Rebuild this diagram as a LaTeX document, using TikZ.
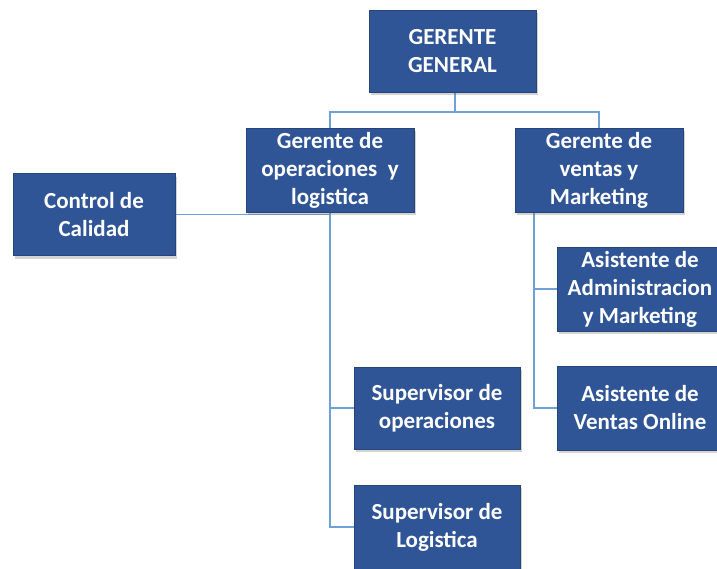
\documentclass[tikz,border=0pt]{standalone}
\usepackage{fontspec}
\setmainfont{Carlito}
\usetikzlibrary{shadows,backgrounds}
\definecolor{boxblue}{HTML}{2F5597}
\definecolor{lineblue}{HTML}{6FA0D6}
\tikzset{
  orgbox/.style={fill=boxblue, draw=boxblue!80!black, line width=0.5pt, text=white, font=\bfseries\fontsize{23}{28}\selectfont, align=center, inner sep=0pt,
    drop shadow={opacity=0.35, shadow xshift=2pt, shadow yshift=-3pt}},
  conn/.style={draw=lineblue, line width=1.8pt}
}
\begin{document}
\begin{tikzpicture}[x=1pt,y=-1pt]
\useasboundingbox (0,0) rectangle (717,568);
\clip (0,0) rectangle (717,568);
\coordinate (jtop) at (455,112);
\node[orgbox, minimum width=167pt, minimum height=82pt] (gg) at (452.5,51) {GERENTE\\GENERAL};
\node[orgbox, minimum width=168pt, minimum height=84pt] (gol) at (330,170) {Gerente de\\operaciones\ \ y\\logistica};
\node[orgbox, minimum width=168pt, minimum height=84pt] (gvm) at (599,170) {Gerente de\\ventas y\\Marketing};
\node[orgbox, minimum width=162pt, minimum height=82pt] (cc) at (94,214.5) {Control de\\Calidad};
\node[orgbox, minimum width=166pt, minimum height=84pt] (aam) at (640,289) {Asistente de\\Administracion\\y Marketing};
\node[orgbox, minimum width=166pt, minimum height=84pt] (avo) at (640,408) {Asistente de\\Ventas Online};
\node[orgbox, minimum width=166pt, minimum height=82pt] (sop) at (437,408) {Supervisor de\\operaciones};
\node[orgbox, minimum width=166pt, minimum height=84pt] (slg) at (437,527) {Supervisor de\\Logistica};
\coordinate (rx) at (534,212);
\begin{scope}[on background layer]
\draw[conn] (gg.south -| jtop) -- (jtop);
\draw[conn] (gol.north) |- (jtop) -| (gvm.north);
\draw[conn] (cc.east) -- (gol.south |- cc.east);
\draw[conn] (gol.south) |- (slg.west);
\draw[conn] (gol.south |- sop.west) -- (sop.west);
\draw[conn] (rx) |- (avo.west);
\draw[conn] (rx |- aam.west) -- (aam.west);
\end{scope}
\end{tikzpicture}
\end{document}
